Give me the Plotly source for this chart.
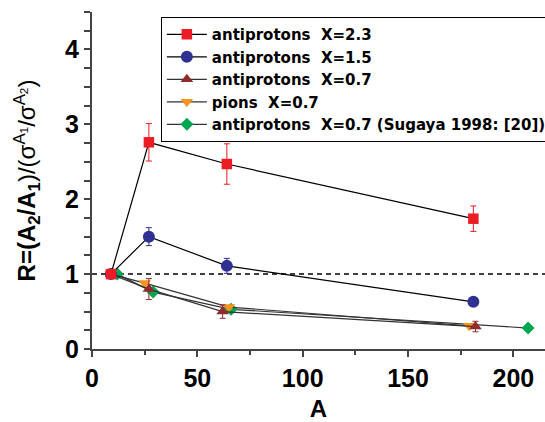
import plotly.graph_objects as go

# ---- data ----
x_p23 = [9, 27, 64, 181]
y_p23 = [1.0, 2.76, 2.47, 1.74]
e_p23 = [0.06, 0.25, 0.27, 0.17]

x_p15 = [9, 27, 64, 181]
y_p15 = [1.0, 1.50, 1.11, 0.63]
e_p15 = [0.05, 0.12, 0.10, 0.03]

x_p07 = [9, 27, 62, 182]
y_p07 = [1.0, 0.80, 0.50, 0.30]
e_p07 = [0.05, 0.14, 0.09, 0.07]

x_pi07 = [9, 25, 65, 179]
y_pi07 = [1.0, 0.88, 0.56, 0.31]

x_sug = [12, 29, 66, 207]
y_sug = [1.0, 0.76, 0.53, 0.28]

names = [
    "antiprotons\u00a0\u00a0X=2.3",
    "antiprotons\u00a0\u00a0X=1.5",
    "antiprotons\u00a0\u00a0X=0.7",
    "pions\u00a0\u00a0X=0.7",
    "antiprotons\u00a0\u00a0X=0.7 (Sugaya 1998: [20])",
]

x_ticks = [0, 50, 100, 150, 200]
y_ticks = [0, 1, 2, 3, 4]

FONT = "Liberation Sans, Arial, sans-serif"
LFONT = "DejaVu Sans, Liberation Sans, sans-serif"

fig = go.Figure()

def add(x, y, err, name, color, symbol, size, linecolor):
    kw = {}
    if err is not None:
        kw["error_y"] = dict(type="data", array=err, visible=True, color=color,
                             thickness=1, width=3)
    fig.add_trace(go.Scatter(
        x=x, y=y, name=name, mode="lines+markers",
        line=dict(color=linecolor, width=1.2),
        marker=dict(color=color, symbol=symbol, size=size, line=dict(width=0)),
        **kw))

add(x_sug, y_sug, None, names[4], "#00a651", "diamond", 10, "#333333")
add(x_pi07, y_pi07, None, names[3], "#f7941d", "triangle-down", 11, "#333333")
add(x_p07, y_p07, e_p07, names[2], "#8e2b2b", "triangle-up", 11, "#333333")
add(x_p15, y_p15, e_p15, names[1], "#2e3192", "circle", 12, "black")
add(x_p23, y_p23, e_p23, names[0], "#ed1c24", "square", 10.5, "black")

fig.add_shape(type="line", xref="x", yref="y", x0=0, x1=215, y0=1, y1=1,
              line=dict(color="black", width=1.5, dash="5px,4px"), layer="below")

fig.update_layout(
    width=545, height=422,
    margin=dict(l=92, r=0, t=11.5, b=73, autoexpand=False),
    paper_bgcolor="white", plot_bgcolor="white",
    font=dict(family=FONT, color="black"),
    showlegend=True,
    legend=dict(
        x=0.152, y=0.985, xanchor="left", yanchor="top",
        bgcolor="white", bordercolor="black", borderwidth=1,
        font=dict(family=LFONT, size=15, color="black", weight="bold"),
        traceorder="reversed", itemwidth=40, tracegroupgap=0,
    ),
    xaxis=dict(
        range=[0, 215], showgrid=False, zeroline=False,
        showline=True, linecolor="#444444", linewidth=2,
        ticks="outside", ticklen=6, tickwidth=1.5, tickcolor="#444444",
        tickvals=x_ticks, ticktext=[str(v) for v in x_ticks],
        tickfont=dict(size=25, family=FONT, weight="bold"),
        minor=dict(ticks="outside", dtick=25, ticklen=4, tickwidth=1.5, tickcolor="#444444"),
        title=dict(text="<b>A</b>", font=dict(size=24, family=FONT), standoff=27),
        automargin=False,
    ),
    yaxis=dict(
        range=[0, 4.5], showgrid=False, zeroline=False,
        showline=True, linecolor="#444444", linewidth=2,
        ticks="outside", ticklen=6, tickwidth=1.5, tickcolor="#444444",
        tickvals=y_ticks, ticktext=[str(v) for v in y_ticks],
        tickfont=dict(size=25, family=FONT, weight="bold"),
        minor=dict(ticks="outside", dtick=0.25, ticklen=6, tickwidth=1.5, tickcolor="#444444"),
        title=dict(text="<b>R=(A<sub>2</sub>/A<sub>1</sub></b>)/(σ<sup>A<sub>1</sub></sup>/σ<sup>A<sub>2</sub></sup>)",
                   font=dict(size=24, family=FONT), standoff=23),
        automargin=False,
    ),
)

fig.write_html("out.html", config={"displayModeBar": False},
               post_script="document.body.style.margin='0px';")
